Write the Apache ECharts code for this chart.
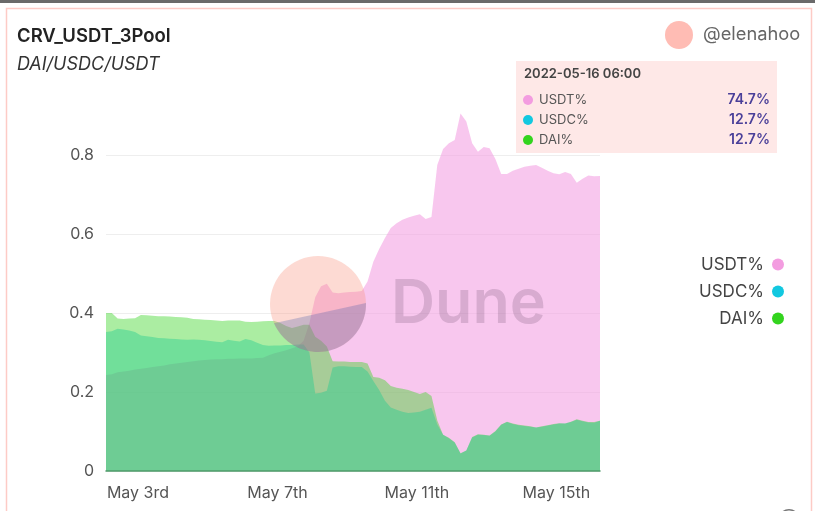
<!DOCTYPE html>
<html>
<head>
<meta charset="utf-8">
<style>
  html, body { margin: 0; padding: 0; background: #fff; }
  #chart { width: 815px; height: 511px; }
</style>
<script src="https://cdn.jsdelivr.net/npm/echarts@6/dist/echarts.min.js"></script>
</head>
<body>
<div id="chart"></div>
<script>
// one sample every 4 hours
var startTime = "2022-05-02T02:00:00Z";
var stepHours = 4;

var usdtShare = [
  .243, .245, .250, .252, .254, .257, .259, .261, .263, .265,
  .267, .270, .272, .274, .276, .278, .280, .281, .282, .283,
  .283, .284, .284, .285, .285, .285, .286, .287, .293, .298,
  .302, .306, .311, .316, .330, .375, .440, .468, .474, .452,
  .450, .452, .453, .454, .456, .480, .530, .562, .590, .615,
  .627, .636, .642, .646, .650, .638, .643, .775, .815, .830,
  .838, .905, .885, .830, .808, .820, .817, .790, .752, .752,
  .760, .765, .770, .773, .775, .768, .760, .754, .751, .757,
  .752, .730, .740, .748, .746, .747
];
var usdcShare = [
  .352, .354, .360, .358, .356, .352, .343, .341, .339, .337,
  .336, .335, .334, .333, .332, .333, .332, .331, .329, .327,
  .326, .332, .330, .328, .334, .331, .325, .319, .317, .318,
  .318, .319, .319, .320, .320, .300, .196, .198, .203, .262,
  .265, .265, .264, .263, .263, .252, .228, .205, .178, .161,
  .155, .150, .147, .148, .150, .155, .160, .118, .092, .083,
  .072, .044, .052, .085, .092, .091, .089, .100, .117, .124,
  .119, .116, .114, .112, .110, .112, .115, .118, .120, .120,
  .124, .130, .126, .123, .122, .127
];
var daiShare = [
  .400, .400, .386, .385, .386, .387, .395, .394, .393, .392,
  .392, .391, .390, .389, .388, .385, .384, .383, .382, .381,
  .380, .381, .381, .381, .378, .377, .378, .379, .380, .380,
  .375, .367, .362, .366, .370, .370, .340, .330, .315, .278,
  .277, .277, .276, .276, .276, .272, .238, .236, .230, .215,
  .211, .208, .205, .200, .195, .200, .190, .128, .092, .084,
  .073, .045, .052, .086, .093, .092, .090, .101, .118, .125,
  .120, .117, .115, .113, .110, .113, .116, .119, .121, .120,
  .125, .131, .127, .124, .124, .127
];

var seriesNames = ["USDT%", "USDC%", "DAI%"];
var seriesColors = ["#f39ce0", "#12c8e0", "#33d41e"];
var areaOpacity = [0.56, 0.42, 0.41];
var tickDays = ["2022-05-03", "2022-05-07", "2022-05-11", "2022-05-15"];
var tickLabels = ["May 3rd", "May 7th", "May 11th", "May 15th"];
var tooltipTitle = "2022-05-16 06:00";

var font = "Inter";
var t0 = Date.parse(startTime);

function pairs(values) {
  return values.map(function(v, i) {
    return [t0 + i * stepHours * 3600000, v];
  });
}

var shares = [usdtShare, usdcShare, daiShare];
var tickTimes = tickDays.map(function(d) { return Date.parse(d + "T00:00:00Z"); });

// lower slice of the logo circle, below the chord from a1 to a2 (radians)
function logoSlice(cx, cy, r, a1, a2) {
  var pts = [];
  for (var k = 0; k <= 40; k++) {
    var a = a1 + (a2 - a1) * k / 40;
    pts.push([cx + r * Math.cos(a), cy + r * Math.sin(a)]);
  }
  return pts;
}

// the hover box, kept as it was on the screenshot
var tooltipGraphics = [
  { type: "rect", shape: { x: 516, y: 61, width: 261, height: 92 }, style: { fill: "#fee8e7" }, z: 100 },
  { type: "text", x: 524, y: 74, z: 101, style: { text: tooltipTitle, fill: "#444", font: "600 13px '" + font + "'", textVerticalAlign: "middle" } }
];
seriesNames.forEach(function(name, i) {
  var rowY = 100 + i * 20;
  var vals = shares[i];
  tooltipGraphics.push(
    { type: "circle", shape: { cx: 528, cy: rowY, r: 5 }, style: { fill: seriesColors[i] }, z: 101 },
    { type: "text", x: 539, y: rowY, z: 101, style: { text: name, fill: "#555", font: "13px '" + font + "'", textVerticalAlign: "middle" } },
    { type: "text", x: 770, y: rowY, z: 101, style: { text: (vals[vals.length - 1] * 100).toFixed(1) + "%", fill: "#4a3f99", font: "600 14px '" + font + "'", textAlign: "right", textVerticalAlign: "middle" } }
  );
});

var option = {
  animation: false,
  backgroundColor: "#fff",
  textStyle: { fontFamily: font },
  title: {
    text: "CRV_USDT_3Pool",
    subtext: "DAI/USDC/USDT",
    left: 12,
    top: 22,
    itemGap: 10,
    textStyle: { fontSize: 18.5, fontWeight: 600, color: "#222", fontFamily: font },
    subtextStyle: { fontSize: 18, fontStyle: "italic", color: "#333", fontFamily: font }
  },
  legend: {
    orient: "vertical",
    right: 26,
    top: 251,
    align: "right",
    icon: "circle",
    itemWidth: 12,
    itemHeight: 12,
    itemGap: 10,
    selectedMode: false,
    data: seriesNames,
    textStyle: { fontSize: 17, color: "#444", fontFamily: font, padding: [0, 3, 0, 0] }
  },
  grid: { left: 106, right: 215, top: 107.6, bottom: 40 },
  xAxis: {
    type: "value",
    z: 3,
    min: t0,
    max: t0 + (usdtShare.length - 1) * stepHours * 3600000,
    axisLine: { lineStyle: { color: "#4f9a6a", width: 1.5 } },
    axisTick: { show: false },
    splitLine: { show: false },
    axisLabel: {
      customValues: tickTimes,
      margin: 14,
      fontSize: 16,
      color: "#555",
      fontFamily: font,
      formatter: function(v) { return tickLabels[tickTimes.indexOf(+v)]; }
    }
  },
  yAxis: {
    type: "value",
    min: 0,
    max: 0.92,
    interval: 0.2,
    axisLine: { show: false },
    axisTick: { show: false },
    splitLine: { showMaxLine: false, lineStyle: { color: "#eeeeee" } },
    axisLabel: {
      margin: 12,
      fontSize: 16,
      color: "#555",
      fontFamily: font,
      showMaxLabel: false
    }
  },
  series: seriesNames.map(function(name, i) {
    return {
      name: name,
      type: "line",
      data: pairs(shares[i]),
      showSymbol: false,
      silent: true,
      itemStyle: { color: seriesColors[i] },
      lineStyle: { width: 0 },
      areaStyle: { color: seriesColors[i], opacity: areaOpacity[i] }
    };
  }),
  graphic: { elements: [
    // card frame and the strip of the page above it
    { type: "rect", shape: { x: 0, y: 0, width: 815, height: 3 }, style: { fill: "#6a6a6a" }, z: 90 },
    { type: "rect", shape: { x: 6.5, y: 8.5, width: 805, height: 520 }, style: { fill: "none", stroke: "#fdcbc6", lineWidth: 1.5 }, z: 90 },
    // top of the next control, cut off by the window edge
    { type: "circle", shape: { cx: 789, cy: 520, r: 11 }, style: { fill: "#777" }, z: 90 },
    { type: "circle", shape: { cx: 789, cy: 520, r: 9.5 }, style: { fill: "#fff" }, z: 91 },
    // author
    { type: "circle", shape: { cx: 679, cy: 35, r: 14 }, style: { fill: "#ffbcb4" }, z: 90 },
    { type: "text", x: 703, y: 35, z: 90, style: { text: "@elenahoo", fill: "#666", font: "18.3px '" + font + "'", textVerticalAlign: "middle" } },
    // Dune watermark on top of the areas
    { type: "circle", shape: { cx: 318, cy: 304, r: 48 }, style: { fill: "rgba(250,150,130,0.35)" }, z: 80 },
    { type: "polygon", shape: { points: logoSlice(318, 304, 48, -0.02, 2.73) }, style: { fill: "rgba(70,90,170,0.28)" }, z: 81 },
    { type: "text", x: 391, y: 305, z: 80, style: { text: "Dune", fill: "rgba(90,60,90,0.2)", font: "600 61px '" + font + "'", textVerticalAlign: "middle" } }
  ].concat(tooltipGraphics) }
};

var chart = echarts.init(document.getElementById("chart"));
chart.setOption(option);
</script>
</body>
</html>
